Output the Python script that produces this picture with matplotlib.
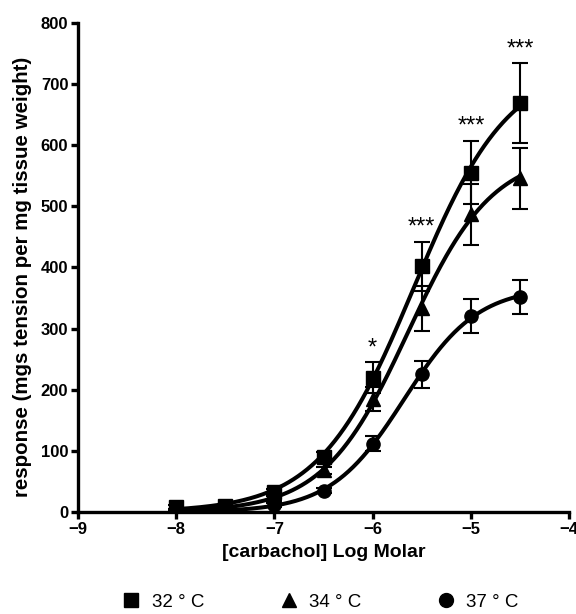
import numpy as np
import matplotlib
matplotlib.use("Agg")
import matplotlib.pyplot as plt
from matplotlib.lines import Line2D

plt.rcParams['font.family'] = ['Liberation Sans', 'DejaVu Sans']

# carbachol concentration, log molar
log_conc = np.array([-8.0, -7.5, -7.0, -6.5, -6.0, -5.5, -5.0, -4.5])

# mean response and SEM for each bath temperature
resp_32 = np.array([8, 10, 33, 90, 220, 402, 555, 669])
sem_32 = np.array([3, 3, 5, 8, 25, 40, 52, 65])
resp_34 = np.array([3, 5, 22, 68, 185, 333, 487, 546])
sem_34 = np.array([2, 2, 4, 6, 20, 37, 50, 50])
resp_37 = np.array([2, 4, 12, 35, 112, 225, 320, 352])
sem_37 = np.array([1, 1, 3, 4, 12, 22, 28, 28])

labels = ['32 \u00b0 C', '34 \u00b0 C', '37 \u00b0 C']
markers = ['s', '^', 'o']

# significance marks (32 vs 37)
star_x = [-6.0, -5.5, -5.0, -4.5]
star_txt = ['*', '***', '***', '***']


def hill(x, top, logec50, n):
    return top / (1 + 10 ** ((logec50 - x) * n))


def fit_hill(x, y):
    # grid over EC50 and slope, top solved by least squares
    best = None
    for ec in np.linspace(-7, -4, 301):
        for n in np.linspace(0.5, 2.0, 151):
            g = hill(x, 1.0, ec, n)
            top = np.sum(y * g) / np.sum(g * g)
            err = np.sum((y - top * g) ** 2)
            if best is None or err < best[0]:
                best = (err, top, ec, n)
    return best[1:]


fig = plt.figure(figsize=(5.76, 6.14), dpi=100)
ax = fig.add_axes([0.1354, 0.166, 0.8526, 0.797])

xs = np.linspace(-8, -4.5, 300)
series = [(resp_32, sem_32), (resp_34, sem_34), (resp_37, sem_37)]
for (y, e), m in zip(series, markers):
    top, ec, n = fit_hill(log_conc, y)
    ax.plot(xs, hill(xs, top, ec, n), color='black', lw=2.9, zorder=2)
    ax.errorbar(log_conc, y, yerr=e, fmt='none', ecolor='black',
                elinewidth=1.5, capsize=6, capthick=1.5, zorder=3)
    ax.plot(log_conc, y, m, color='black', ms=9.5 if m != '^' else 10,
            zorder=4)

for x, t in zip(star_x, star_txt):
    idx = list(log_conc).index(x)
    ax.text(x, resp_32[idx] + sem_32[idx] + 13, t, ha='center',
            va='baseline', fontsize=17)

ax.set_xlim(-9, -4)
ax.set_ylim(0, 800)
ax.set_xticks([-9, -8, -7, -6, -5, -4])
ax.set_yticks(range(0, 801, 100))
for s in ['top', 'right']:
    ax.spines[s].set_visible(False)
for s in ['left', 'bottom']:
    ax.spines[s].set_linewidth(2.4)
ax.tick_params(width=2.4, length=5, labelsize=12, pad=2)
for lab in ax.get_xticklabels() + ax.get_yticklabels():
    lab.set_fontweight('bold')

ax.set_xlabel('[carbachol] Log Molar', fontsize=14, fontweight='bold',
              labelpad=5)
ax.set_ylabel('response (mgs tension per mg tissue weight)', fontsize=14.8,
              fontweight='bold')
ax.yaxis.set_label_coords(-0.094, 0.48)

handles = [Line2D([], [], ls='none', marker=m, color='black', ms=10)
           for m in markers]
fig.legend(handles, labels, loc='lower center', ncol=3, frameon=False,
           fontsize=13.5, bbox_to_anchor=(0.556, -0.022), columnspacing=4.0,
           handletextpad=0.6, handlelength=1.0)

fig.savefig('out.png', dpi=100)
